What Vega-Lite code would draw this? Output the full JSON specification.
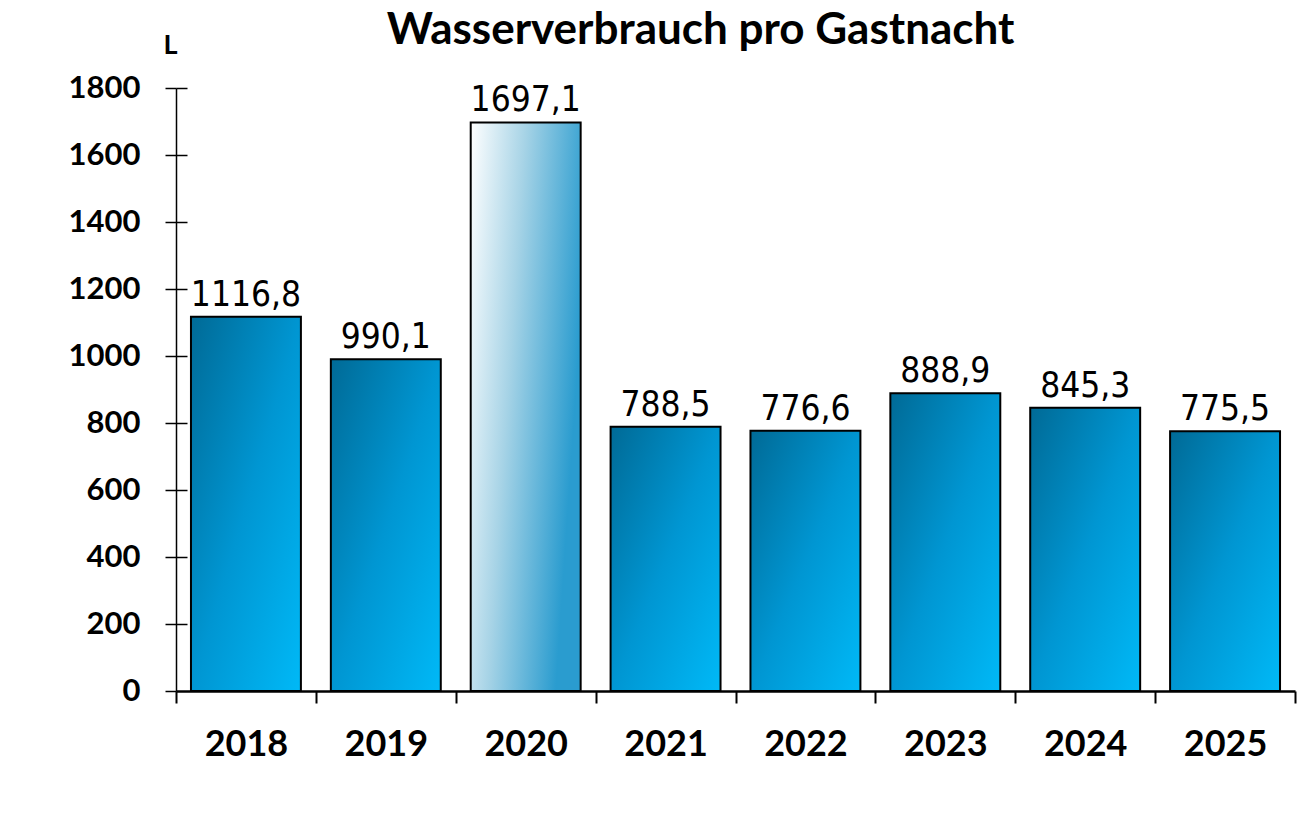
{
  "$schema": "https://vega.github.io/schema/vega-lite/v6.json",
  "autosize": "none",
  "padding": {"left": 176, "top": 88, "right": 14, "bottom": 125},
  "width": 1119,
  "height": 603,
  "background": "white",
  "config": {
    "view": {"stroke": null},
    "locale": {"number": {"decimal": ",", "thousands": ".", "grouping": [3], "currency": ["", " €"]}}
  },
  "title": {
    "text": "Wasserverbrauch pro Gastnacht",
    "font": "Lato",
    "fontSize": 44,
    "fontWeight": "bold",
    "color": "black",
    "anchor": "middle",
    "frame": "group",
    "baseline": "bottom",
    "dx": -35,
    "offset": 0,
    "dy": 66
  },
  "data": {
    "values": [
      {"Jahr": "2018", "Liter": 1116.8},
      {"Jahr": "2019", "Liter": 990.1},
      {"Jahr": "2020", "Liter": 1697.1},
      {"Jahr": "2021", "Liter": 788.5},
      {"Jahr": "2022", "Liter": 776.6},
      {"Jahr": "2023", "Liter": 888.9},
      {"Jahr": "2024", "Liter": 845.3},
      {"Jahr": "2025", "Liter": 775.5}
    ]
  },
  "encoding": {
    "x": {
      "field": "Jahr",
      "type": "nominal",
      "sort": ["2018", "2019", "2020", "2021", "2022", "2023", "2024", "2025"],
      "scale": {"paddingInner": 0, "paddingOuter": 0},
      "axis": {
        "title": null,
        "labelAngle": 0,
        "labelFont": "Lato",
        "labelFontSize": 36,
        "labelFontWeight": "bold",
        "labelColor": "black",
        "labelPadding": 24,
        "tickBand": "extent",
        "tickSize": 12,
        "tickColor": "black",
        "tickWidth": 2,
        "domainColor": "black",
        "domainWidth": 2.5
      }
    },
    "y": {
      "field": "Liter",
      "type": "quantitative",
      "scale": {"domain": [0, 1800], "nice": false}
    }
  },
  "layer": [
    {
      "transform": [{"filter": "datum.Jahr !== '2020'"}],
      "mark": {
        "type": "bar",
        "width": {"band": 0.786},
        "stroke": "black",
        "strokeWidth": 2,
        "color": {
          "gradient": "linear",
          "x1": 0, "y1": 0, "x2": 1, "y2": 1,
          "stops": [
            {"offset": 0, "color": "#006a96"},
            {"offset": 0.5, "color": "#0096d2"},
            {"offset": 1, "color": "#00b9f7"}
          ]
        }
      },
      "encoding": {
        "y": {
          "field": "Liter",
          "type": "quantitative",
          "axis": {
            "title": "L",
            "titleAngle": 0,
            "titleFont": "Lato",
            "titleFontSize": 27,
            "titleFontWeight": "bold",
            "titleColor": "black",
            "titleAlign": "center",
            "titleBaseline": "alphabetic",
            "titleX": -6,
            "titleY": -35,
            "values": [0, 200, 400, 600, 800, 1000, 1200, 1400, 1600, 1800],
            "format": "d",
            "grid": false,
            "labelFont": "Lato",
            "labelFontSize": 31,
            "labelFontWeight": "bold",
            "labelColor": "black",
            "labelPadding": 25,
            "tickSize": 11,
            "tickColor": "black",
            "tickWidth": 1.5,
            "domainColor": "black",
            "domainWidth": 1.5
          }
        }
      }
    },
    {
      "transform": [{"filter": "datum.Jahr === '2020'"}],
      "mark": {
        "type": "bar",
        "width": {"band": 0.786},
        "stroke": "black",
        "strokeWidth": 2,
        "color": {
          "gradient": "linear",
          "x1": 0, "y1": 0, "x2": 1, "y2": 0.35,
          "stops": [
            {"offset": 0, "color": "#ffffff"},
            {"offset": 0.45, "color": "#a6d3e6"},
            {"offset": 1, "color": "#2a9ccf"}
          ]
        }
      },
      "encoding": {
        "y": {"field": "Liter", "type": "quantitative", "axis": null}
      }
    },
    {
      "mark": {
        "type": "text",
        "font": "DejaVu Sans Condensed",
        "fontSize": 35,
        "color": "black",
        "baseline": "alphabetic",
        "dy": -11
      },
      "encoding": {
        "text": {"field": "Liter", "type": "quantitative", "format": ".1f"},
        "y": {
          "field": "Liter",
          "type": "quantitative",
          "axis": {
            "orient": "left",
            "title": null,
            "labels": false,
            "domain": false,
            "grid": false,
            "values": [200, 400, 600, 800, 1000, 1200, 1400, 1600, 1800],
            "tickSize": -11,
            "tickColor": "black",
            "tickWidth": 1.5
          }
        }
      }
    }
  ],
  "resolve": {"axis": {"y": "independent"}}
}
